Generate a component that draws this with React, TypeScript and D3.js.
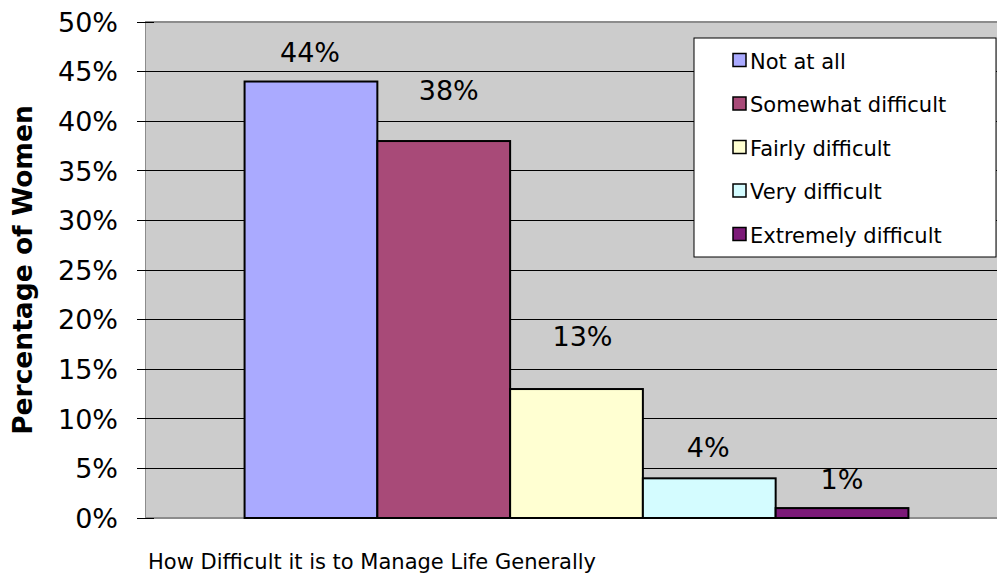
import React from 'react';
import * as d3 from 'd3';

// chart data
const category = 'How Difficult it is to Manage Life Generally';
const seriesNames = ['Not at all', 'Somewhat difficult', 'Fairly difficult', 'Very difficult', 'Extremely difficult'];
const seriesValues = [0.44, 0.38, 0.13, 0.04, 0.01];
const seriesColors = ['#AAAAFF', '#A84A78', '#FFFFD2', '#D4FCFF', '#7C1A78'];
const yTicks = [0, 0.05, 0.1, 0.15, 0.2, 0.25, 0.3, 0.35, 0.4, 0.45, 0.5];

// Excel pushed a couple of labels up / sideways
const labelLift = [20, 41, 43, 21, 19];
const labelShift = [-1, 5, 6, -1, 0];

const W = 997;
const H = 575;
const plot = { left: 145, right: 1008, top: 22, bottom: 518 };
const font = 'DejaVu Sans, Verdana, sans-serif';

export default function App() {
  const y = d3.scaleLinear().domain([0, 0.5]).range([plot.bottom, plot.top]);
  const outer = d3.scaleBand().domain([category]).range([plot.left, plot.right]).paddingOuter(0.15);
  const inner = d3.scaleBand().domain(seriesNames).range([0, outer.bandwidth()]);
  const fmt = d3.format('.0%');

  const legend = { x: 694, y: 38, w: 302, h: 219 };
  const rowY = d3.scalePoint().domain(seriesNames).range([61, 235]);

  return (
    <svg width={W} height={H} style={{ position: 'absolute', left: 0, top: 0 }} fontFamily={font}>
      {/* plot area */}
      <rect x={plot.left} y={plot.top} width={plot.right - plot.left} height={plot.bottom - plot.top} fill="#CCCCCC" />
      {yTicks.slice(1, -1).map((t) => (
        <line key={t} x1={plot.left} x2={plot.right} y1={y(t)} y2={y(t)} stroke="#000" strokeWidth={1} shapeRendering="crispEdges" />
      ))}
      <line x1={plot.left} x2={plot.right} y1={plot.top} y2={plot.top} stroke="#8C8C8C" strokeWidth={2} shapeRendering="crispEdges" />
      <line x1={plot.left} x2={plot.right} y1={plot.bottom} y2={plot.bottom} stroke="#8C8C8C" strokeWidth={2} shapeRendering="crispEdges" />
      <line x1={plot.left} x2={plot.left} y1={plot.top} y2={plot.bottom} stroke="#8C8C8C" strokeWidth={1} shapeRendering="crispEdges" />

      {/* y axis ticks and labels */}
      {yTicks.map((t) => (
        <g key={t}>
          <line x1={137} x2={154} y1={y(t)} y2={y(t)} stroke="#000" strokeWidth={1} shapeRendering="crispEdges" />
          <text x={118} y={y(t)} dy="0.36em" textAnchor="end" fontSize={27} fill="#000">
            {fmt(t)}
          </text>
        </g>
      ))}

      {/* bars */}
      {seriesNames.map((s, i) => {
        const x0 = (outer(category) as number) + (inner(s) as number);
        return (
          <rect
            key={s}
            x={x0}
            y={y(seriesValues[i])}
            width={inner.bandwidth()}
            height={plot.bottom - y(seriesValues[i])}
            fill={seriesColors[i]}
            stroke="#000"
            strokeWidth={2}
          />
        );
      })}

      {/* data labels */}
      {seriesNames.map((s, i) => {
        const cx = (outer(category) as number) + (inner(s) as number) + inner.bandwidth() / 2;
        return (
          <text key={s} x={cx + labelShift[i]} y={y(seriesValues[i]) - labelLift[i]} textAnchor="middle" fontSize={27} fill="#000">
            {fmt(seriesValues[i])}
          </text>
        );
      })}

      {/* legend */}
      <rect x={legend.x} y={legend.y} width={legend.w} height={legend.h} fill="#fff" stroke="#000" strokeWidth={1} />
      {seriesNames.map((s, i) => (
        <g key={s} transform={`translate(0,${rowY(s)})`}>
          <rect x={733} y={-7.5} width={13} height={13} fill={seriesColors[i]} stroke="#000" strokeWidth={1.5} />
          <text x={750} y={0} dy="0.36em" fontSize={21} fill="#000">
            {s}
          </text>
        </g>
      ))}

      {/* axis titles */}
      <text transform={`translate(32,${(plot.top + plot.bottom) / 2}) rotate(-90)`} textAnchor="middle" fontSize={26.5} fontWeight="bold" fill="#000">
        Percentage of Women
      </text>
      <text x={148} y={569} fontSize={21} fill="#000">
        {category}
      </text>
    </svg>
  );
}
